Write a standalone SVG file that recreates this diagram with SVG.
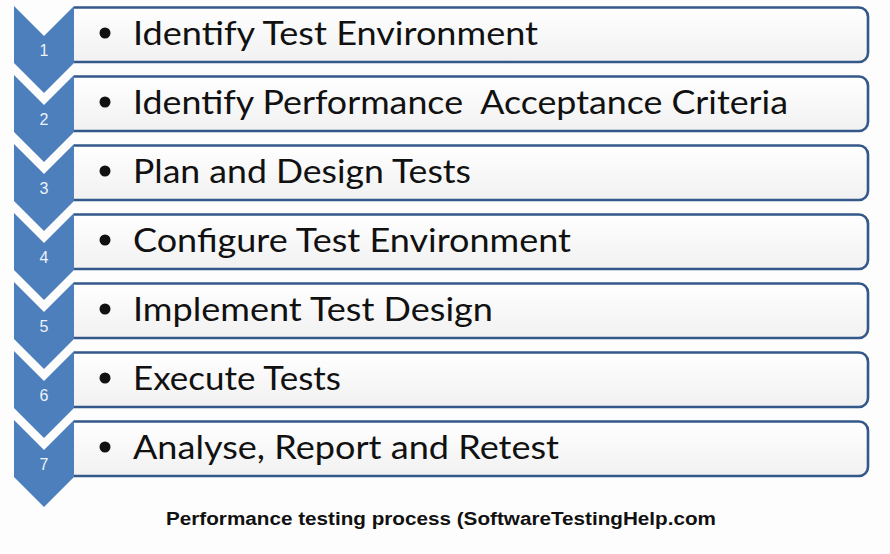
<svg xmlns="http://www.w3.org/2000/svg" width="890" height="554" viewBox="0 0 890 554">
<defs>
<linearGradient id="boxg" x1="0" y1="0" x2="0" y2="1">
<stop offset="0" stop-color="#ffffff"/>
<stop offset="1" stop-color="#f1f1f1"/>
</linearGradient>
<polygon id="chev" points="14,6 44,36 74,6 74,63 44,93 14,63"/>
<path id="boxp" d="M74,7.5 H859 A9,9 0 0 1 868,16.5 V53 A9,9 0 0 1 859,62 H74"/>
</defs>
<style>
.box{fill:url(#boxg);stroke:#34588a;stroke-width:2.6}
.chev{fill:#4d7fbc}
.num{font-family:"Liberation Sans",Arial,sans-serif;font-size:16px;fill:#eef3fa;text-anchor:middle}
.lbl{font-family:Lato,"Liberation Sans",sans-serif;font-size:32px;fill:#111111}
.bul{fill:#111111}
.cap{font-family:"Liberation Sans",Arial,sans-serif;font-size:18px;font-weight:bold;fill:#111111}
</style>
<rect width="890" height="554" fill="#fdfdfd"/>
<g id="step1" transform="translate(0,0)">
<use href="#boxp" class="box"/>
<use href="#chev" class="chev"/>
<text class="num" x="44" y="56">1</text>
<circle class="bul" cx="105" cy="33" r="5.5"/>
<text class="lbl" x="133" y="45" textLength="405" lengthAdjust="spacingAndGlyphs">Identify Test Environment</text>
</g>
<g id="step2" transform="translate(0,69)">
<use href="#boxp" class="box"/>
<use href="#chev" class="chev"/>
<text class="num" x="44" y="56">2</text>
<circle class="bul" cx="105" cy="33" r="5.5"/>
<text class="lbl" x="133" y="45" textLength="655" lengthAdjust="spacingAndGlyphs" xml:space="preserve">Identify Performance  Acceptance Criteria</text>
</g>
<g id="step3" transform="translate(0,138)">
<use href="#boxp" class="box"/>
<use href="#chev" class="chev"/>
<text class="num" x="44" y="56">3</text>
<circle class="bul" cx="105" cy="33" r="5.5"/>
<text class="lbl" x="133" y="45" textLength="338" lengthAdjust="spacingAndGlyphs">Plan and Design Tests</text>
</g>
<g id="step4" transform="translate(0,207)">
<use href="#boxp" class="box"/>
<use href="#chev" class="chev"/>
<text class="num" x="44" y="56">4</text>
<circle class="bul" cx="105" cy="33" r="5.5"/>
<text class="lbl" x="133" y="45" textLength="438" lengthAdjust="spacingAndGlyphs">Configure Test Environment</text>
</g>
<g id="step5" transform="translate(0,276)">
<use href="#boxp" class="box"/>
<use href="#chev" class="chev"/>
<text class="num" x="44" y="56">5</text>
<circle class="bul" cx="105" cy="33" r="5.5"/>
<text class="lbl" x="133" y="45" textLength="360" lengthAdjust="spacingAndGlyphs">Implement Test Design</text>
</g>
<g id="step6" transform="translate(0,345)">
<use href="#boxp" class="box"/>
<use href="#chev" class="chev"/>
<text class="num" x="44" y="56">6</text>
<circle class="bul" cx="105" cy="33" r="5.5"/>
<text class="lbl" x="133" y="45" textLength="208" lengthAdjust="spacingAndGlyphs">Execute Tests</text>
</g>
<g id="step7" transform="translate(0,414)">
<use href="#boxp" class="box"/>
<use href="#chev" class="chev"/>
<text class="num" x="44" y="56">7</text>
<circle class="bul" cx="105" cy="33" r="5.5"/>
<text class="lbl" x="133" y="45" textLength="426" lengthAdjust="spacingAndGlyphs">Analyse, Report and Retest</text>
</g>
<g id="caption">
<text class="cap" x="166" y="525" textLength="550" lengthAdjust="spacingAndGlyphs">Performance testing process (SoftwareTestingHelp.com</text>
</g>
</svg>
